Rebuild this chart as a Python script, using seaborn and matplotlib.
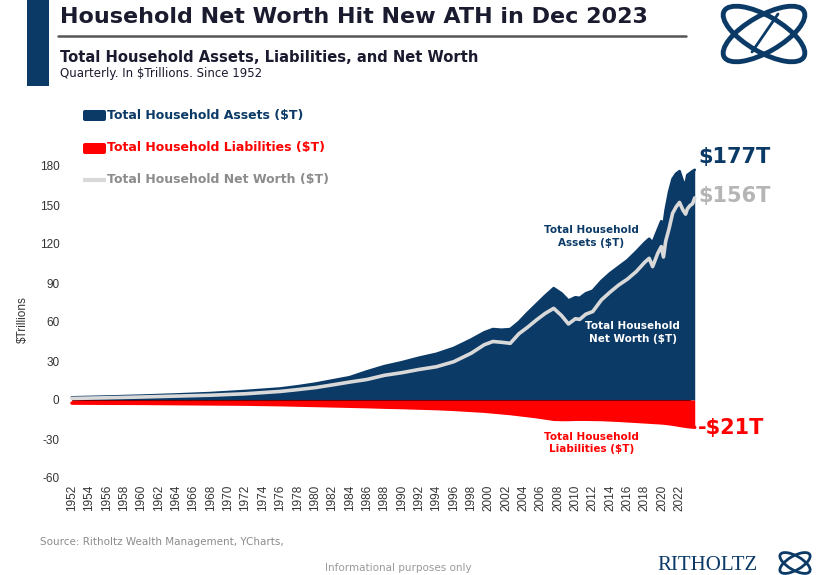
import matplotlib
matplotlib.use("Agg")
import matplotlib.pyplot as plt
from matplotlib.patches import FancyBboxPatch, Rectangle, Ellipse
import seaborn as sns
import pandas as pd

# ---------------- data ----------------
periods = [1952, 1956, 1960, 1964, 1968, 1972, 1976, 1978, 1980, 1982, 1984, 1986,
           1988, 1990, 1992, 1994, 1996, 1998, 1999.5, 2000.5, 2001.5, 2002.5,
           2003.5, 2004.5, 2005.5, 2006.5, 2007.5, 2008.4, 2009.2, 2010.0, 2010.5,
           2011.2, 2012.0, 2013.0, 2014.0, 2015.0, 2016.0, 2017.0, 2018.0, 2018.5,
           2018.9, 2019.5, 2019.9, 2020.15, 2020.4, 2020.8, 2021.2, 2021.6, 2022.0,
           2022.4, 2022.7, 2022.9, 2023.2, 2023.5, 2023.75]
assets = [2.0, 2.6, 3.3, 4.2, 5.3, 6.9, 8.8, 10.5, 12.5, 15.0, 17.5, 22.0,
          26.0, 29.0, 32.5, 35.5, 40.0, 46.5, 52.0, 54.5, 54.0, 54.5,
          60.0, 67.0, 73.5, 80.0, 86.0, 82.0, 76.5, 79.0, 78.5,
          82.0, 84.0, 91.5, 97.5, 102.5, 107.5, 114.0, 121.0, 124.0,
          121.0, 131.0, 137.5, 134.0, 146.0, 160.0, 170.0, 174.0, 176.0,
          168.0, 166.0, 173.0, 174.5, 176.0, 177.0]
net_worth = [1.2, 1.7, 2.3, 3.0, 3.7, 4.8, 6.6, 8.0, 9.5, 11.6, 13.8, 15.8,
             19.0, 21.0, 23.5, 25.6, 29.5, 36.0, 42.5, 45.0, 44.4, 43.6,
             51.0, 56.0, 61.5, 66.5, 70.5, 65.0, 58.5, 62.5, 62.0,
             66.0, 68.0, 77.0, 83.0, 88.5, 93.0, 98.7, 106.0, 109.0,
             102.6, 113.0, 118.0, 110.0, 122.0, 132.0, 143.6, 148.5, 152.0,
             146.0, 143.0, 147.0, 149.5, 151.0, 155.5]
liabilities = [2.4, 2.5, 2.6, 2.8, 3.0, 3.2, 3.6, 3.9, 4.2, 4.5, 4.8, 5.1,
               5.5, 5.8, 6.2, 6.6, 7.2, 8.0, 8.6, 9.2, 9.8, 10.4,
               11.2, 12.0, 12.8, 13.8, 14.8, 15.0, 15.0, 14.8, 14.8,
               14.8, 14.9, 15.0, 15.3, 15.6, 16.0, 16.4, 16.8, 17.0,
               17.2, 17.4, 17.6, 17.7, 17.9, 18.2, 18.6, 19.0, 19.5,
               19.9, 20.2, 20.4, 20.6, 20.8, 21.0]

year_ticks = list(range(1952, 2023, 2))
y_ticks = [-60, -30, 0, 30, 60, 90, 120, 150, 180]

title = "Household Net Worth Hit New ATH in Dec 2023"
subtitle = "Total Household Assets, Liabilities, and Net Worth"
subsubtitle = "Quarterly. In $Trillions. Since 1952"
legend_labels = ["Total Household Assets ($T)", "Total Household Liabilities ($T)",
                 "Total Household Net Worth ($T)"]
end_labels = ["$177T", "$156T", "-$21T"]

NAVY = "#0b3a67"
RED = "#ff0000"
GRAY_LINE = "#d9d9d9"
DARK = "#1b1b2f"

df = pd.DataFrame({"period": periods, "assets": assets,
                   "net_worth": net_worth,
                   "liab_neg": [-v for v in liabilities]})

# ---------------- figure ----------------
sns.set_theme(style="white")
plt.rcParams["font.family"] = ["DejaVu Sans"]

W, H = 825, 575
fig = plt.figure(figsize=(W / 100, H / 100), dpi=100)
fig.patch.set_facecolor("white")

ax = fig.add_axes([65 / W, (H - 480.6) / H, (699.5 - 65) / W, (480.6 - 159.5) / H])
ax.set_facecolor("white")

ax.fill_between(df["period"], 0, df["assets"], color=NAVY, lw=0, zorder=2)
sns.lineplot(data=df, x="period", y="assets", ax=ax, color=NAVY, lw=2, zorder=3)
ax.fill_between(df["period"], 0, df["liab_neg"], color=RED, lw=0, zorder=2)
sns.lineplot(data=df, x="period", y="liab_neg", ax=ax, color=RED, lw=2.5, zorder=3)
ax.axhline(0, xmin=0.011, xmax=0.985, color="#7a0000", lw=0.8, zorder=4)
sns.lineplot(data=df, x="period", y="net_worth", ax=ax, color=GRAY_LINE, lw=2.6, zorder=5)

ax.set_xlim(1951.2, 2024.3)
ax.set_ylim(-62, 185)
ax.set_xticks(year_ticks)
ax.set_xticklabels([str(y) for y in year_ticks], rotation=90, fontsize=8.5,
                   color="#333333", family="Liberation Sans")
ax.set_yticks(y_ticks)
ax.set_yticklabels([str(v) for v in y_ticks], fontsize=8.5, color="#333333",
                   family="Liberation Sans")
ax.tick_params(axis="both", length=0, pad=3)
ax.tick_params(axis="y", pad=4)
ax.set_xlabel("")
ax.set_ylabel("$Trillions", fontsize=8.5, color="#333333", labelpad=8,
              family="Liberation Sans")
for s in ax.spines.values():
    s.set_visible(False)

# in-chart annotations
ax.text(2011.85, 126, "Total Household\nAssets ($T)", color=NAVY, fontsize=7.5,
        fontweight="bold", ha="center", va="center", linespacing=1.35, zorder=6)
ax.text(2016.6, 52, "Total Household\nNet Worth ($T)", color="white", fontsize=7.5,
        fontweight="bold", ha="center", va="center", linespacing=1.35, zorder=6)
ax.text(2011.85, -33, "Total Household\nLiabilities ($T)", color=RED, fontsize=7.5,
        fontweight="bold", ha="center", va="center", linespacing=1.35, zorder=6)

# ---------------- overlay in pixel coordinates ----------------
ov = fig.add_axes([0, 0, 1, 1], zorder=10)
ov.set_xlim(0, W)
ov.set_ylim(H, 0)
ov.axis("off")
ov.patch.set_alpha(0)

ov.add_patch(Rectangle((27, 0), 22, 86, color=NAVY, lw=0))
ov.text(60, 17, title, fontsize=16, fontweight="bold", color=DARK, ha="left", va="center")
ov.plot([58, 686], [36, 36], color="#555555", lw=1.8)
ov.text(60, 57, subtitle, fontsize=10.6, fontweight="semibold", color=DARK, ha="left", va="center")
ov.text(60, 73, subsubtitle, fontsize=8.5, color=DARK, ha="left", va="center")

# legend
ov.add_patch(FancyBboxPatch((83, 110), 23, 11, boxstyle="round,pad=0,rounding_size=2",
                            color=NAVY, lw=0))
ov.text(107, 116, legend_labels[0], fontsize=9, fontweight="bold", color=NAVY, ha="left", va="center")
ov.add_patch(FancyBboxPatch((83, 143), 23, 11, boxstyle="round,pad=0,rounding_size=2",
                            color=RED, lw=0))
ov.text(107, 148, legend_labels[1], fontsize=9, fontweight="bold", color=RED, ha="left", va="center")
ov.plot([83, 106], [180, 180], color=GRAY_LINE, lw=3, solid_capstyle="butt")
ov.text(107, 180, legend_labels[2], fontsize=9, fontweight="bold", color="#8c8c8c", ha="left", va="center")

# end labels
ov.text(698, 157, end_labels[0], fontsize=15, fontweight="bold", color=NAVY, ha="left", va="center")
ov.text(698, 196, end_labels[1], fontsize=15, fontweight="bold", color="#b5b5b5", ha="left", va="center")
ov.text(698, 428, end_labels[2], fontsize=15, fontweight="bold", color=RED, ha="left", va="center")

# footer
ov.text(40, 542, "Source: Ritholtz Wealth Management, YCharts,", fontsize=7.5,
        color="#8c8c8c", ha="left", va="center")
ov.text(398, 568, "Informational purposes only", fontsize=7.5, color="#9a9a9a",
        ha="center", va="center")
ov.text(657, 565, "RITHOLTZ", fontsize=15, family="Liberation Serif", color=NAVY,
        ha="left", va="center")

# logo rings (top right)
for ang in (-30, 30):
    ov.add_patch(Ellipse((764, 34), 92, 36, angle=ang, fill=False, ec=NAVY, lw=3.5))
ov.plot([752, 778], [52, 14], color=NAVY, lw=2)
for ang in (-30, 30):
    ov.add_patch(Ellipse((795, 563), 34, 14, angle=ang, fill=False, ec=NAVY, lw=2))

fig.savefig("out.png", dpi=100, facecolor="white")
